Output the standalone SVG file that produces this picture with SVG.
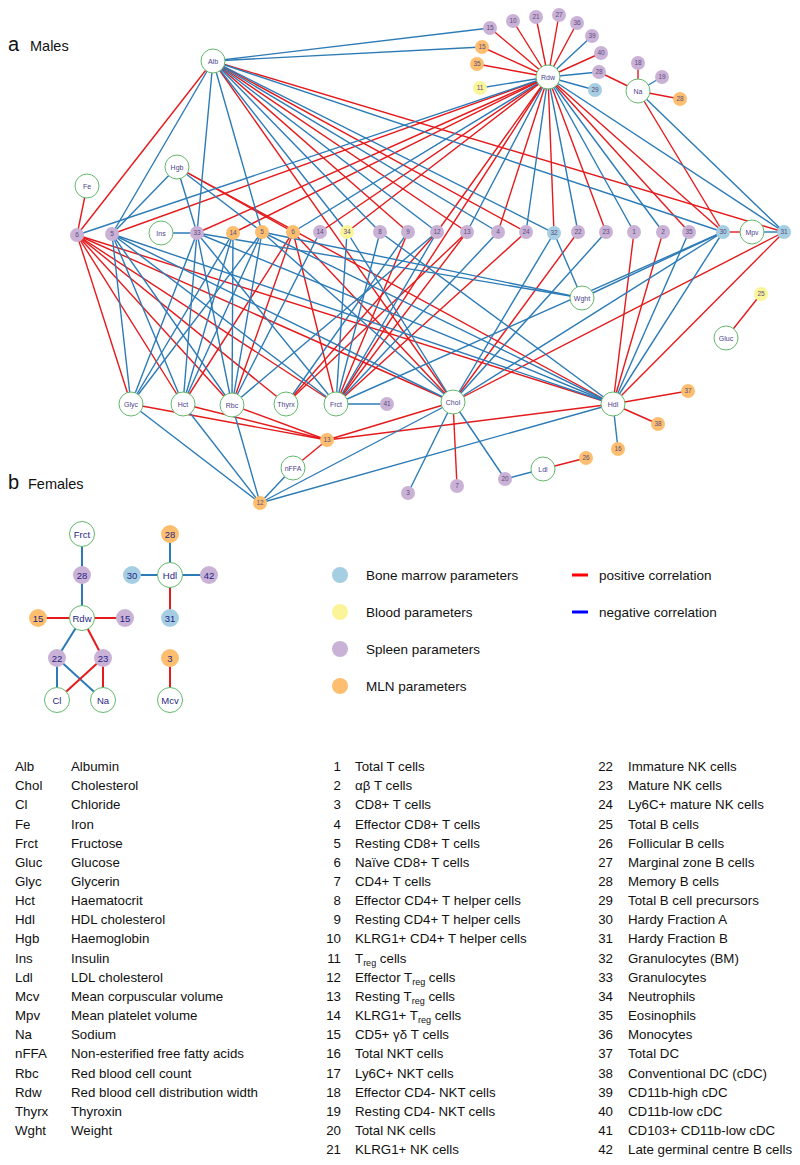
<svg xmlns="http://www.w3.org/2000/svg" width="800" height="1165" viewBox="0 0 800 1165">
<style>
.pos{stroke:#e41a1c;stroke-width:1.4;fill:none}
.neg{stroke:#2c7bb6;stroke-width:1.4;fill:none}
.fpos{stroke:#e41a1c;stroke-width:2;fill:none}
.fneg{stroke:#2c7bb6;stroke-width:2;fill:none}
.L{fill:#fff;stroke:#63b96b;stroke-width:1}
.bm{fill:#a6cee3}.bl{fill:#fbf59a}.sp{fill:#cab2d6}.ml{fill:#fdbf6f}
.lt{font-family:"Liberation Sans",Arial,sans-serif;font-size:7px;fill:#4b3f8c;text-anchor:middle}
.st{font-family:"Liberation Sans",Arial,sans-serif;font-size:6.5px;fill:#5a4c7c;text-anchor:middle}
.ft{font-family:"Liberation Sans",Arial,sans-serif;font-size:9.5px;fill:#1f1f85;text-anchor:middle}
.tx{font-family:"Liberation Sans",Arial,sans-serif;font-size:13.3px;fill:#111}
.lg{font-family:"Liberation Sans",Arial,sans-serif;font-size:13.5px;fill:#111}
.num{text-anchor:end}
</style>
<rect width="800" height="1165" fill="#fff"/>
<text x="8" y="51" font-family="Liberation Sans,Arial,sans-serif" font-size="20" fill="#111">a</text>
<text x="30" y="51" font-family="Liberation Sans,Arial,sans-serif" font-size="14.5" fill="#111">Males</text>
<text x="8" y="489" font-family="Liberation Sans,Arial,sans-serif" font-size="20" fill="#111">b</text>
<text x="28" y="489" font-family="Liberation Sans,Arial,sans-serif" font-size="14.5" fill="#111">Females</text>
<g id="connectors">
<g class="pos">
<line x1="548" y1="77" x2="490" y2="28"/><line x1="548" y1="77" x2="513" y2="21"/><line x1="548" y1="77" x2="536" y2="17"/><line x1="548" y1="77" x2="559" y2="15"/><line x1="548" y1="77" x2="577" y2="23"/><line x1="548" y1="77" x2="601" y2="53"/><line x1="548" y1="77" x2="482" y2="47"/><line x1="548" y1="77" x2="477" y2="64"/>
<line x1="599" y1="72" x2="638" y2="91"/><line x1="638" y1="91" x2="638" y2="63"/><line x1="638" y1="91" x2="680" y2="99"/><line x1="638" y1="91" x2="723" y2="232"/>
<line x1="87" y1="186" x2="77" y2="235"/><line x1="723" y1="232" x2="752" y2="232"/><line x1="726" y1="338" x2="761" y2="294"/>
<line x1="213" y1="61" x2="77" y2="235"/><line x1="213" y1="61" x2="408" y2="232"/><line x1="213" y1="61" x2="467" y2="232"/><line x1="213" y1="61" x2="526" y2="232"/><line x1="213" y1="61" x2="784" y2="232"/><line x1="213" y1="61" x2="453" y2="402"/>
<line x1="177" y1="167" x2="293" y2="232"/><line x1="177" y1="167" x2="613" y2="404"/>
<line x1="548" y1="77" x2="112" y2="234"/><line x1="548" y1="77" x2="197" y2="233"/><line x1="548" y1="77" x2="233" y2="233"/><line x1="548" y1="77" x2="320" y2="232"/><line x1="548" y1="77" x2="347" y2="232"/><line x1="548" y1="77" x2="437" y2="232"/><line x1="548" y1="77" x2="498" y2="232"/><line x1="548" y1="77" x2="554" y2="233"/><line x1="548" y1="77" x2="606" y2="232"/><line x1="548" y1="77" x2="689" y2="232"/><line x1="548" y1="77" x2="723" y2="232"/><line x1="548" y1="77" x2="336" y2="404"/>
<line x1="77" y1="235" x2="131" y2="404"/><line x1="77" y1="235" x2="183" y2="404"/><line x1="77" y1="235" x2="232" y2="405"/><line x1="77" y1="235" x2="286" y2="404"/><line x1="77" y1="235" x2="336" y2="404"/><line x1="77" y1="235" x2="453" y2="402"/><line x1="77" y1="235" x2="613" y2="404"/>
<line x1="293" y1="232" x2="183" y2="404"/><line x1="293" y1="232" x2="232" y2="405"/><line x1="293" y1="232" x2="336" y2="404"/><line x1="293" y1="232" x2="453" y2="402"/>
<line x1="408" y1="232" x2="336" y2="404"/><line x1="467" y1="232" x2="336" y2="404"/><line x1="467" y1="232" x2="286" y2="404"/><line x1="526" y1="232" x2="336" y2="404"/><line x1="578" y1="232" x2="453" y2="402"/><line x1="286" y1="404" x2="437" y2="232"/>
<line x1="634" y1="232" x2="613" y2="404"/><line x1="663" y1="232" x2="613" y2="404"/><line x1="784" y1="232" x2="613" y2="404"/><line x1="784" y1="232" x2="453" y2="402"/>
<line x1="131" y1="404" x2="327" y2="440"/><line x1="183" y1="404" x2="327" y2="440"/><line x1="232" y1="405" x2="327" y2="440"/><line x1="293" y1="468" x2="327" y2="440"/><line x1="327" y1="440" x2="453" y2="402"/><line x1="327" y1="440" x2="613" y2="404"/>
<line x1="453" y1="402" x2="457" y2="486"/><line x1="613" y1="404" x2="688" y2="391"/><line x1="613" y1="404" x2="658" y2="424"/><line x1="543" y1="469" x2="586" y2="458"/>
</g>
<g class="neg">
<line x1="213" y1="61" x2="490" y2="28"/><line x1="213" y1="61" x2="482" y2="47"/><line x1="213" y1="61" x2="112" y2="234"/><line x1="213" y1="61" x2="197" y2="233"/><line x1="213" y1="61" x2="262" y2="232"/><line x1="213" y1="61" x2="347" y2="232"/><line x1="213" y1="61" x2="380" y2="232"/><line x1="213" y1="61" x2="437" y2="232"/><line x1="213" y1="61" x2="498" y2="232"/><line x1="213" y1="61" x2="554" y2="233"/><line x1="213" y1="61" x2="723" y2="232"/>
<line x1="548" y1="77" x2="592" y2="36"/><line x1="548" y1="77" x2="599" y2="72"/><line x1="548" y1="77" x2="595" y2="90"/><line x1="548" y1="77" x2="480" y2="88"/>
<line x1="638" y1="91" x2="662" y2="77"/><line x1="638" y1="91" x2="784" y2="232"/><line x1="161" y1="233" x2="197" y2="233"/><line x1="752" y1="232" x2="784" y2="232"/>
<line x1="177" y1="167" x2="112" y2="234"/><line x1="177" y1="167" x2="197" y2="233"/><line x1="177" y1="167" x2="262" y2="232"/>
<line x1="548" y1="77" x2="77" y2="235"/><line x1="548" y1="77" x2="293" y2="232"/><line x1="548" y1="77" x2="467" y2="232"/><line x1="548" y1="77" x2="526" y2="232"/><line x1="548" y1="77" x2="578" y2="232"/><line x1="548" y1="77" x2="634" y2="232"/><line x1="548" y1="77" x2="663" y2="232"/><line x1="548" y1="77" x2="784" y2="232"/>
<line x1="112" y1="234" x2="131" y2="404"/><line x1="112" y1="234" x2="183" y2="404"/><line x1="112" y1="234" x2="232" y2="405"/><line x1="112" y1="234" x2="336" y2="404"/><line x1="112" y1="234" x2="453" y2="402"/><line x1="112" y1="234" x2="613" y2="404"/>
<line x1="197" y1="233" x2="131" y2="404"/><line x1="197" y1="233" x2="183" y2="404"/><line x1="197" y1="233" x2="232" y2="405"/><line x1="197" y1="233" x2="336" y2="404"/><line x1="197" y1="233" x2="582" y2="298"/><line x1="197" y1="233" x2="613" y2="404"/>
<line x1="233" y1="233" x2="131" y2="404"/><line x1="233" y1="233" x2="183" y2="404"/><line x1="233" y1="233" x2="232" y2="405"/>
<line x1="262" y1="232" x2="131" y2="404"/><line x1="262" y1="232" x2="183" y2="404"/><line x1="262" y1="232" x2="232" y2="405"/><line x1="262" y1="232" x2="582" y2="298"/><line x1="262" y1="232" x2="613" y2="404"/><line x1="262" y1="232" x2="453" y2="402"/>
<line x1="320" y1="232" x2="232" y2="405"/><line x1="347" y1="232" x2="336" y2="404"/><line x1="347" y1="232" x2="453" y2="402"/><line x1="380" y1="232" x2="336" y2="404"/><line x1="380" y1="232" x2="613" y2="404"/><line x1="408" y1="232" x2="286" y2="404"/><line x1="437" y1="232" x2="336" y2="404"/><line x1="437" y1="232" x2="232" y2="405"/><line x1="498" y1="232" x2="336" y2="404"/>
<line x1="554" y1="233" x2="453" y2="402"/><line x1="554" y1="233" x2="582" y2="298"/><line x1="606" y1="232" x2="453" y2="402"/><line x1="689" y1="232" x2="613" y2="404"/>
<line x1="723" y1="232" x2="613" y2="404"/><line x1="723" y1="232" x2="453" y2="402"/><line x1="723" y1="232" x2="582" y2="298"/><line x1="723" y1="232" x2="336" y2="404"/>
<line x1="131" y1="404" x2="260" y2="503"/><line x1="183" y1="404" x2="260" y2="503"/><line x1="232" y1="405" x2="260" y2="503"/><line x1="293" y1="468" x2="260" y2="503"/><line x1="260" y1="503" x2="453" y2="402"/><line x1="260" y1="503" x2="613" y2="404"/>
<line x1="336" y1="404" x2="387" y2="404"/><line x1="453" y1="402" x2="408" y2="493"/><line x1="453" y1="402" x2="505" y2="479"/><line x1="505" y1="479" x2="543" y2="469"/><line x1="613" y1="404" x2="618" y2="449"/>
</g>
<g class="fneg">
<line x1="82" y1="534" x2="82" y2="575"/><line x1="82" y1="575" x2="82" y2="618"/><line x1="82" y1="618" x2="57" y2="658"/><line x1="57" y1="658" x2="57" y2="700"/><line x1="57" y1="658" x2="103" y2="700"/>
<line x1="170" y1="534" x2="170" y2="575"/><line x1="132" y1="575" x2="170" y2="575"/><line x1="170" y1="575" x2="209" y2="575"/>
</g>
<g class="fpos">
<line x1="38" y1="618" x2="82" y2="618"/><line x1="82" y1="618" x2="125" y2="618"/><line x1="82" y1="618" x2="103" y2="658"/><line x1="103" y1="658" x2="57" y2="700"/><line x1="103" y1="658" x2="103" y2="700"/>
<line x1="170" y1="575" x2="170" y2="618"/><line x1="170" y1="658" x2="170" y2="700"/>
</g>
</g>
<g id="nodes-males">
<g id="m-Alb"><circle class="L" cx="213" cy="61" r="12"/><text class="lt" x="213" y="63.5">Alb</text></g>
<g id="m-Rdw"><circle class="L" cx="548" cy="77" r="12"/><text class="lt" x="548" y="79.5">Rdw</text></g>
<g id="m-Na"><circle class="L" cx="638" cy="91" r="12"/><text class="lt" x="638" y="93.5">Na</text></g>
<g id="m-Hgb"><circle class="L" cx="177" cy="167" r="12"/><text class="lt" x="177" y="169.5">Hgb</text></g>
<g id="m-Fe"><circle class="L" cx="87" cy="186" r="12"/><text class="lt" x="87" y="188.5">Fe</text></g>
<g id="m-Ins"><circle class="L" cx="161" cy="233" r="12"/><text class="lt" x="161" y="235.5">Ins</text></g>
<g id="m-Mpv"><circle class="L" cx="752" cy="232" r="12"/><text class="lt" x="752" y="234.5">Mpv</text></g>
<g id="m-Wght"><circle class="L" cx="582" cy="298" r="12"/><text class="lt" x="582" y="300.5">Wght</text></g>
<g id="m-Gluc"><circle class="L" cx="726" cy="338" r="12"/><text class="lt" x="726" y="340.5">Gluc</text></g>
<g id="m-Glyc"><circle class="L" cx="131" cy="404" r="12"/><text class="lt" x="131" y="406.5">Glyc</text></g>
<g id="m-Hct"><circle class="L" cx="183" cy="404" r="12"/><text class="lt" x="183" y="406.5">Hct</text></g>
<g id="m-Rbc"><circle class="L" cx="232" cy="405" r="12"/><text class="lt" x="232" y="407.5">Rbc</text></g>
<g id="m-Thyrx"><circle class="L" cx="286" cy="404" r="12"/><text class="lt" x="286" y="406.5">Thyrx</text></g>
<g id="m-Frct"><circle class="L" cx="336" cy="404" r="12"/><text class="lt" x="336" y="406.5">Frct</text></g>
<g id="m-Chol"><circle class="L" cx="453" cy="402" r="12"/><text class="lt" x="453" y="404.5">Chol</text></g>
<g id="m-Hdl"><circle class="L" cx="613" cy="404" r="12"/><text class="lt" x="613" y="406.5">Hdl</text></g>
<g id="m-nFFA"><circle class="L" cx="293" cy="468" r="12"/><text class="lt" x="293" y="470.5">nFFA</text></g>
<g id="m-Ldl"><circle class="L" cx="543" cy="469" r="12"/><text class="lt" x="543" y="471.5">Ldl</text></g>
<g id="m-p15"><circle class="sp" cx="490" cy="28" r="7"/><text class="st" x="490" y="30.3">15</text></g>
<g id="m-p10"><circle class="sp" cx="513" cy="21" r="7"/><text class="st" x="513" y="23.3">10</text></g>
<g id="m-p21"><circle class="sp" cx="536" cy="17" r="7"/><text class="st" x="536" y="19.3">21</text></g>
<g id="m-p27"><circle class="sp" cx="559" cy="15" r="7"/><text class="st" x="559" y="17.3">27</text></g>
<g id="m-p36"><circle class="sp" cx="577" cy="23" r="7"/><text class="st" x="577" y="25.3">36</text></g>
<g id="m-p39"><circle class="sp" cx="592" cy="36" r="7"/><text class="st" x="592" y="38.3">39</text></g>
<g id="m-p40"><circle class="sp" cx="601" cy="53" r="7"/><text class="st" x="601" y="55.3">40</text></g>
<g id="m-p28"><circle class="sp" cx="599" cy="72" r="7"/><text class="st" x="599" y="74.3">28</text></g>
<g id="m-b29"><circle class="bm" cx="595" cy="90" r="7"/><text class="st" x="595" y="92.3">29</text></g>
<g id="m-o15"><circle class="ml" cx="482" cy="47" r="7"/><text class="st" x="482" y="49.3">15</text></g>
<g id="m-o35"><circle class="ml" cx="477" cy="64" r="7"/><text class="st" x="477" y="66.3">35</text></g>
<g id="m-y11"><circle class="bl" cx="480" cy="88" r="7"/><text class="st" x="480" y="90.3">11</text></g>
<g id="m-p18"><circle class="sp" cx="638" cy="63" r="7"/><text class="st" x="638" y="65.3">18</text></g>
<g id="m-p19"><circle class="sp" cx="662" cy="77" r="7"/><text class="st" x="662" y="79.3">19</text></g>
<g id="m-o28"><circle class="ml" cx="680" cy="99" r="7"/><text class="st" x="680" y="101.3">28</text></g>
<g id="m-p6"><circle class="sp" cx="77" cy="235" r="7"/><text class="st" x="77" y="237.3">6</text></g>
<g id="m-p5"><circle class="sp" cx="112" cy="234" r="7"/><text class="st" x="112" y="236.3">5</text></g>
<g id="m-p33"><circle class="sp" cx="197" cy="233" r="7"/><text class="st" x="197" y="235.3">33</text></g>
<g id="m-o14"><circle class="ml" cx="233" cy="233" r="7"/><text class="st" x="233" y="235.3">14</text></g>
<g id="m-o5"><circle class="ml" cx="262" cy="232" r="7"/><text class="st" x="262" y="234.3">5</text></g>
<g id="m-o6"><circle class="ml" cx="293" cy="232" r="7"/><text class="st" x="293" y="234.3">6</text></g>
<g id="m-p14"><circle class="sp" cx="320" cy="232" r="7"/><text class="st" x="320" y="234.3">14</text></g>
<g id="m-y34"><circle class="bl" cx="347" cy="232" r="7"/><text class="st" x="347" y="234.3">34</text></g>
<g id="m-p8"><circle class="sp" cx="380" cy="232" r="7"/><text class="st" x="380" y="234.3">8</text></g>
<g id="m-p9"><circle class="sp" cx="408" cy="232" r="7"/><text class="st" x="408" y="234.3">9</text></g>
<g id="m-p12"><circle class="sp" cx="437" cy="232" r="7"/><text class="st" x="437" y="234.3">12</text></g>
<g id="m-p13"><circle class="sp" cx="467" cy="232" r="7"/><text class="st" x="467" y="234.3">13</text></g>
<g id="m-p4"><circle class="sp" cx="498" cy="232" r="7"/><text class="st" x="498" y="234.3">4</text></g>
<g id="m-p24"><circle class="sp" cx="526" cy="232" r="7"/><text class="st" x="526" y="234.3">24</text></g>
<g id="m-b32"><circle class="bm" cx="554" cy="233" r="7"/><text class="st" x="554" y="235.3">32</text></g>
<g id="m-p22"><circle class="sp" cx="578" cy="232" r="7"/><text class="st" x="578" y="234.3">22</text></g>
<g id="m-p23"><circle class="sp" cx="606" cy="232" r="7"/><text class="st" x="606" y="234.3">23</text></g>
<g id="m-p1"><circle class="sp" cx="634" cy="232" r="7"/><text class="st" x="634" y="234.3">1</text></g>
<g id="m-p2"><circle class="sp" cx="663" cy="232" r="7"/><text class="st" x="663" y="234.3">2</text></g>
<g id="m-p35"><circle class="sp" cx="689" cy="232" r="7"/><text class="st" x="689" y="234.3">35</text></g>
<g id="m-b30"><circle class="bm" cx="723" cy="232" r="7"/><text class="st" x="723" y="234.3">30</text></g>
<g id="m-b31"><circle class="bm" cx="784" cy="232" r="7"/><text class="st" x="784" y="234.3">31</text></g>
<g id="m-y25"><circle class="bl" cx="761" cy="294" r="7"/><text class="st" x="761" y="296.3">25</text></g>
<g id="m-p41"><circle class="sp" cx="387" cy="404" r="7"/><text class="st" x="387" y="406.3">41</text></g>
<g id="m-o13"><circle class="ml" cx="327" cy="440" r="7"/><text class="st" x="327" y="442.3">13</text></g>
<g id="m-o12"><circle class="ml" cx="260" cy="503" r="7"/><text class="st" x="260" y="505.3">12</text></g>
<g id="m-o37"><circle class="ml" cx="688" cy="391" r="7"/><text class="st" x="688" y="393.3">37</text></g>
<g id="m-o38"><circle class="ml" cx="658" cy="424" r="7"/><text class="st" x="658" y="426.3">38</text></g>
<g id="m-o16"><circle class="ml" cx="618" cy="449" r="7"/><text class="st" x="618" y="451.3">16</text></g>
<g id="m-o26"><circle class="ml" cx="586" cy="458" r="7"/><text class="st" x="586" y="460.3">26</text></g>
<g id="m-p20"><circle class="sp" cx="505" cy="479" r="7"/><text class="st" x="505" y="481.3">20</text></g>
<g id="m-p7"><circle class="sp" cx="457" cy="486" r="7"/><text class="st" x="457" y="488.3">7</text></g>
<g id="m-p3"><circle class="sp" cx="408" cy="493" r="7"/><text class="st" x="408" y="495.3">3</text></g>
</g>
<g id="nodes-females">
<g id="f-Frct"><circle class="L" cx="82" cy="534" r="12.5"/><text class="ft" x="82" y="537.5">Frct</text></g>
<g id="f-p28"><circle class="sp" cx="82" cy="575" r="9"/><text class="ft" x="82" y="578.5">28</text></g>
<g id="f-Rdw"><circle class="L" cx="82" cy="618" r="12.5"/><text class="ft" x="82" y="621.5">Rdw</text></g>
<g id="f-o15"><circle class="ml" cx="38" cy="618" r="9"/><text class="ft" x="38" y="621.5">15</text></g>
<g id="f-p15"><circle class="sp" cx="125" cy="618" r="9"/><text class="ft" x="125" y="621.5">15</text></g>
<g id="f-p22"><circle class="sp" cx="57" cy="658" r="9"/><text class="ft" x="57" y="661.5">22</text></g>
<g id="f-p23"><circle class="sp" cx="103" cy="658" r="9"/><text class="ft" x="103" y="661.5">23</text></g>
<g id="f-Cl"><circle class="L" cx="57" cy="700" r="12.5"/><text class="ft" x="57" y="703.5">Cl</text></g>
<g id="f-Na"><circle class="L" cx="103" cy="700" r="12.5"/><text class="ft" x="103" y="703.5">Na</text></g>
<g id="f-o28"><circle class="ml" cx="170" cy="534" r="9"/><text class="ft" x="170" y="537.5">28</text></g>
<g id="f-b30"><circle class="bm" cx="132" cy="575" r="9"/><text class="ft" x="132" y="578.5">30</text></g>
<g id="f-Hdl"><circle class="L" cx="170" cy="575" r="12.5"/><text class="ft" x="170" y="578.5">Hdl</text></g>
<g id="f-p42"><circle class="sp" cx="209" cy="575" r="9"/><text class="ft" x="209" y="578.5">42</text></g>
<g id="f-b31"><circle class="bm" cx="170" cy="618" r="9"/><text class="ft" x="170" y="621.5">31</text></g>
<g id="f-o3"><circle class="ml" cx="170" cy="658" r="9"/><text class="ft" x="170" y="661.5">3</text></g>
<g id="f-Mcv"><circle class="L" cx="170" cy="700" r="12.5"/><text class="ft" x="170" y="703.5">Mcv</text></g>
</g>
<g id="legend">
<circle class="bm" cx="340" cy="575" r="8"/><text class="lg" x="366" y="580">Bone marrow parameters</text>
<circle class="bl" cx="340" cy="612" r="8"/><text class="lg" x="366" y="617">Blood parameters</text>
<circle class="sp" cx="340" cy="649" r="8"/><text class="lg" x="366" y="654">Spleen parameters</text>
<circle class="ml" cx="340" cy="686" r="8"/><text class="lg" x="366" y="691">MLN parameters</text>
<line x1="572" y1="575" x2="588" y2="575" stroke="#ff0000" stroke-width="3"/><text class="lg" x="599" y="580">positive correlation</text>
<line x1="572" y1="612" x2="588" y2="612" stroke="#0000ff" stroke-width="3"/><text class="lg" x="599" y="617">negative correlation</text>
</g>
<g id="abbreviations" class="tx">
<text x="15" y="771">Alb</text><text x="71" y="771">Albumin</text>
<text x="15" y="790.2">Chol</text><text x="71" y="790.2">Cholesterol</text>
<text x="15" y="809.3">Cl</text><text x="71" y="809.3">Chloride</text>
<text x="15" y="828.5">Fe</text><text x="71" y="828.5">Iron</text>
<text x="15" y="847.6">Frct</text><text x="71" y="847.6">Fructose</text>
<text x="15" y="866.8">Gluc</text><text x="71" y="866.8">Glucose</text>
<text x="15" y="886">Glyc</text><text x="71" y="886">Glycerin</text>
<text x="15" y="905.1">Hct</text><text x="71" y="905.1">Haematocrit</text>
<text x="15" y="924.3">Hdl</text><text x="71" y="924.3">HDL cholesterol</text>
<text x="15" y="943.4">Hgb</text><text x="71" y="943.4">Haemoglobin</text>
<text x="15" y="962.6">Ins</text><text x="71" y="962.6">Insulin</text>
<text x="15" y="981.8">Ldl</text><text x="71" y="981.8">LDL cholesterol</text>
<text x="15" y="1000.9">Mcv</text><text x="71" y="1000.9">Mean corpuscular volume</text>
<text x="15" y="1020.1">Mpv</text><text x="71" y="1020.1">Mean platelet volume</text>
<text x="15" y="1039.2">Na</text><text x="71" y="1039.2">Sodium</text>
<text x="15" y="1058.4">nFFA</text><text x="71" y="1058.4">Non-esterified free fatty acids</text>
<text x="15" y="1077.6">Rbc</text><text x="71" y="1077.6">Red blood cell count</text>
<text x="15" y="1096.7">Rdw</text><text x="71" y="1096.7">Red blood cell distribution width</text>
<text x="15" y="1115.9">Thyrx</text><text x="71" y="1115.9">Thyroxin</text>
<text x="15" y="1135">Wght</text><text x="71" y="1135">Weight</text>
</g>
<g id="cells-1" class="tx">
<text class="num" x="341" y="771">1</text><text x="355" y="771">Total T cells</text>
<text class="num" x="341" y="790.2">2</text><text x="355" y="790.2">αβ T cells</text>
<text class="num" x="341" y="809.3">3</text><text x="355" y="809.3">CD8+ T cells</text>
<text class="num" x="341" y="828.5">4</text><text x="355" y="828.5">Effector CD8+ T cells</text>
<text class="num" x="341" y="847.6">5</text><text x="355" y="847.6">Resting CD8+ T cells</text>
<text class="num" x="341" y="866.8">6</text><text x="355" y="866.8">Naïve CD8+ T cells</text>
<text class="num" x="341" y="886">7</text><text x="355" y="886">CD4+ T cells</text>
<text class="num" x="341" y="905.1">8</text><text x="355" y="905.1">Effector CD4+ T helper cells</text>
<text class="num" x="341" y="924.3">9</text><text x="355" y="924.3">Resting CD4+ T helper cells</text>
<text class="num" x="341" y="943.4">10</text><text x="355" y="943.4">KLRG1+ CD4+ T helper cells</text>
<text class="num" x="341" y="962.6">11</text><text x="355" y="962.6">T<tspan font-size="9" dy="3">reg</tspan><tspan dy="-3"> cells</tspan></text>
<text class="num" x="341" y="981.8">12</text><text x="355" y="981.8">Effector T<tspan font-size="9" dy="3">reg</tspan><tspan dy="-3"> cells</tspan></text>
<text class="num" x="341" y="1000.9">13</text><text x="355" y="1000.9">Resting T<tspan font-size="9" dy="3">reg</tspan><tspan dy="-3"> cells</tspan></text>
<text class="num" x="341" y="1020.1">14</text><text x="355" y="1020.1">KLRG1+ T<tspan font-size="9" dy="3">reg</tspan><tspan dy="-3"> cells</tspan></text>
<text class="num" x="341" y="1039.2">15</text><text x="355" y="1039.2">CD5+ γδ T cells</text>
<text class="num" x="341" y="1058.4">16</text><text x="355" y="1058.4">Total NKT cells</text>
<text class="num" x="341" y="1077.6">17</text><text x="355" y="1077.6">Ly6C+ NKT cells</text>
<text class="num" x="341" y="1096.7">18</text><text x="355" y="1096.7">Effector CD4- NKT cells</text>
<text class="num" x="341" y="1115.9">19</text><text x="355" y="1115.9">Resting CD4- NKT cells</text>
<text class="num" x="341" y="1135">20</text><text x="355" y="1135">Total NK cells</text>
<text class="num" x="341" y="1154.2">21</text><text x="355" y="1154.2">KLRG1+ NK cells</text>
</g>
<g id="cells-2" class="tx">
<text class="num" x="613" y="771">22</text><text x="628" y="771">Immature NK cells</text>
<text class="num" x="613" y="790.2">23</text><text x="628" y="790.2">Mature NK cells</text>
<text class="num" x="613" y="809.3">24</text><text x="628" y="809.3">Ly6C+ mature NK cells</text>
<text class="num" x="613" y="828.5">25</text><text x="628" y="828.5">Total B cells</text>
<text class="num" x="613" y="847.6">26</text><text x="628" y="847.6">Follicular B cells</text>
<text class="num" x="613" y="866.8">27</text><text x="628" y="866.8">Marginal zone B cells</text>
<text class="num" x="613" y="886">28</text><text x="628" y="886">Memory B cells</text>
<text class="num" x="613" y="905.1">29</text><text x="628" y="905.1">Total B cell precursors</text>
<text class="num" x="613" y="924.3">30</text><text x="628" y="924.3">Hardy Fraction A</text>
<text class="num" x="613" y="943.4">31</text><text x="628" y="943.4">Hardy Fraction B</text>
<text class="num" x="613" y="962.6">32</text><text x="628" y="962.6">Granulocytes (BM)</text>
<text class="num" x="613" y="981.8">33</text><text x="628" y="981.8">Granulocytes</text>
<text class="num" x="613" y="1000.9">34</text><text x="628" y="1000.9">Neutrophils</text>
<text class="num" x="613" y="1020.1">35</text><text x="628" y="1020.1">Eosinophils</text>
<text class="num" x="613" y="1039.2">36</text><text x="628" y="1039.2">Monocytes</text>
<text class="num" x="613" y="1058.4">37</text><text x="628" y="1058.4">Total DC</text>
<text class="num" x="613" y="1077.6">38</text><text x="628" y="1077.6">Conventional DC (cDC)</text>
<text class="num" x="613" y="1096.7">39</text><text x="628" y="1096.7">CD11b-high cDC</text>
<text class="num" x="613" y="1115.9">40</text><text x="628" y="1115.9">CD11b-low cDC</text>
<text class="num" x="613" y="1135">41</text><text x="628" y="1135">CD103+ CD11b-low cDC</text>
<text class="num" x="613" y="1154.2">42</text><text x="628" y="1154.2">Late germinal centre B cells</text>
</g>
</svg>
